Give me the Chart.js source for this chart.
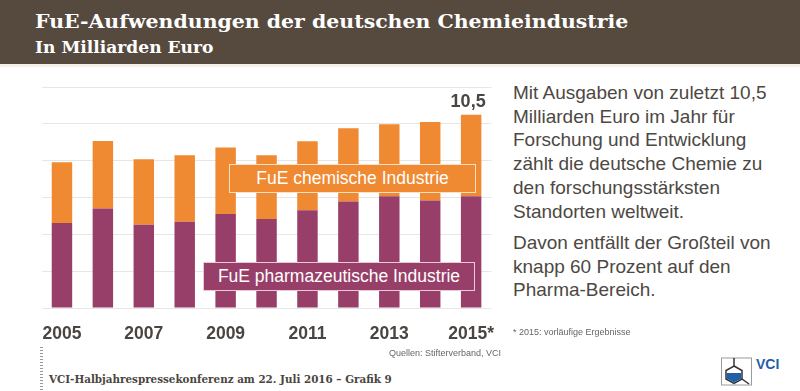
<!DOCTYPE html>
<html>
<head>
<meta charset="utf-8">
<script src="https://cdn.jsdelivr.net/npm/chart.js@4"></script>
<style>
  body { margin: 0; width: 800px; height: 391px; background: #fff; position: relative; overflow: hidden; font-family: "Liberation Sans", Arial, sans-serif; }
  .abs { position: absolute; white-space: nowrap; }
  #band { left: 0; top: 0; width: 800px; height: 64px; background: #564a3f; }
  #strip { left: 0; top: 64px; width: 800px; height: 3px; background: #f4efe7; }
  .serif { font-family: "DejaVu Serif", serif; font-weight: bold; transform-origin: 0 0; }
  #title { left: 35px; top: 12px; font-size: 19px; line-height: 19px; color: #fff; }
  #subtitle { left: 35px; top: 39px; font-size: 17px; line-height: 17px; color: #fff; }
  #chartBox { left: 0; top: 65px; width: 497px; height: 288px; }
  .tag { color: #fff; font-size: 17.5px; line-height: 26px; text-align: center; box-sizing: border-box; }
  #tagChem { left: 229px; top: 164px; width: 247px; height: 29px; background: #ef8a33; border: 1.5px solid #fbe0c8; }
  #tagPharma { left: 203px; top: 262px; width: 272px; height: 29px; background: #983f69; border: 1.5px solid #ecc9d8; }
  #text { left: 513px; top: 81px; font-size: 19px; line-height: 23.7px; color: #4d4843; }
  #text p { margin: 0 0 7.7px 0; }
  #note { left: 513px; top: 327px; font-size: 9px; color: #666; }
  #src { left: 389px; top: 348px; font-size: 9px; color: #666; }
  #ruler { left: 40px; top: 347px; width: 3px; height: 44px; background: repeating-linear-gradient(to bottom, #999 0 1px, transparent 1px 3px); }
  #footer { left: 49px; top: 374px; font-size: 11.5px; line-height: 11.5px; color: #4a4540; }
  #logo { left: 720px; top: 355px; }
</style>
</head>
<body>
<div id="band" class="abs"></div>
<div id="strip" class="abs"></div>
<div id="title" class="abs serif">FuE-Aufwendungen der deutschen Chemieindustrie</div>
<div id="subtitle" class="abs serif">In Milliarden Euro</div>

<div id="chartBox" class="abs"><canvas id="chart"></canvas></div>

<div id="tagChem" class="abs tag">FuE chemische Industrie</div>
<div id="tagPharma" class="abs tag">FuE pharmazeutische Industrie</div>

<div id="text" class="abs">
  <p>Mit Ausgaben von zuletzt 10,5<br>Milliarden Euro im Jahr für<br>Forschung und Entwicklung<br>zählt die deutsche Chemie zu<br>den forschungsstärksten<br>Standorten weltweit.</p>
  <p>Davon entfällt der Großteil von<br>knapp 60 Prozent auf den<br>Pharma-Bereich.</p>
</div>

<div id="note" class="abs">* 2015: vorläufige Ergebnisse</div>
<div id="src" class="abs">Quellen: Stifterverband, VCI</div>
<div id="ruler" class="abs"></div>
<div id="footer" class="abs serif">VCI-Halbjahrespressekonferenz am 22. Juli 2016 – Grafik 9</div>

<svg id="logo" class="abs" width="64" height="34" viewBox="0 0 64 34">
  <rect x="1.5" y="3" width="30" height="27" fill="#fff" stroke="#9a9a9a" stroke-width="1"/>
  <line x1="14" y1="3" x2="14" y2="11" stroke="#333" stroke-width="1.5"/>
  <line x1="22" y1="24" x2="29" y2="29" stroke="#333" stroke-width="1.5"/>
  <polygon points="14,11 22,15.5 22,24 14,28.5 6,24 6,15.5" fill="#fff" stroke="#333" stroke-width="1.5"/>
  <polygon points="6.8,18 21.2,18 21.2,23.5 14,27.6 6.8,23.5" fill="#1f5fa8"/>
  <text x="36" y="14" font-family="Liberation Sans, Arial" font-weight="bold" font-size="14" fill="#1f5fa8">VCI</text>
</svg>

<script>
const years = ['2005', '2006', '2007', '2008', '2009', '2010', '2011', '2012', '2013', '2014', '2015*'];
const pharma = [4.61, 5.40, 4.52, 4.68, 5.10, 4.83, 5.31, 5.78, 6.07, 5.84, 6.07];
const chemie = [3.31, 3.67, 3.56, 3.62, 3.61, 3.47, 3.75, 3.98, 3.91, 4.26, 4.43];
const yTicks = [0, 2, 4, 6, 8, 10, 12];

// squeeze the serif lines to the width they have in the original
function fit(id, w) {
    const el = document.getElementById(id);
    el.style.transform = 'scaleX(' + (w / el.offsetWidth) + ')';
}
fit('title', 593);
fit('subtitle', 178);
fit('footer', 343);

// total above the last bar
const totalLabel = {
    id: 'totalLabel',
    afterDatasetsDraw(chart) {
        const ctx = chart.ctx;
        const i = years.length - 1;
        const bar = chart.getDatasetMeta(1).data[i];
        const total = pharma[i] + chemie[i];
        ctx.save();
        ctx.font = 'bold 18px "Liberation Sans", Arial, sans-serif';
        ctx.fillStyle = '#4a4540';
        ctx.textAlign = 'center';
        ctx.textBaseline = 'alphabetic';
        ctx.fillText(total.toFixed(1).replace('.', ','), bar.x - 3, bar.y - 8);
        ctx.restore();
    }
};

const ctx = document.getElementById('chart').getContext('2d');
new Chart(ctx, {
    type: 'bar',
    data: {
        labels: years,
        datasets: [
            { label: 'FuE pharmazeutische Industrie', data: pharma, backgroundColor: '#983f69' },
            { label: 'FuE chemische Industrie', data: chemie, backgroundColor: '#ef8a33' }
        ]
    },
    options: {
        responsive: true,
        maintainAspectRatio: false,
        animation: false,
        layout: { padding: { top: 22, left: 41.5, right: 0, bottom: 5 } },
        datasets: { bar: { barPercentage: 0.5, categoryPercentage: 1.0 } },
        plugins: { legend: { display: false }, tooltip: { enabled: false } },
        scales: {
            x: {
                stacked: true,
                grid: { display: false, drawTicks: true, tickLength: 13 },
                border: { display: false },
                ticks: {
                    autoSkip: false,
                    maxRotation: 0,
                    padding: 3,
                    color: '#4a4540',
                    font: { family: '"Liberation Sans", Arial, sans-serif', size: 17.5, weight: 'bold' },
                    callback: (v, i) => i % 2 === 0 ? years[i] : ''
                }
            },
            y: {
                stacked: true,
                min: yTicks[0],
                max: yTicks[yTicks.length - 1],
                afterBuildTicks: axis => { axis.ticks = yTicks.map(v => ({ value: v })); },
                ticks: { display: false },
                grid: { color: '#e6e6e6', drawTicks: false },
                border: { display: false }
            }
        }
    },
    plugins: [totalLabel]
});
</script>
</body>
</html>
